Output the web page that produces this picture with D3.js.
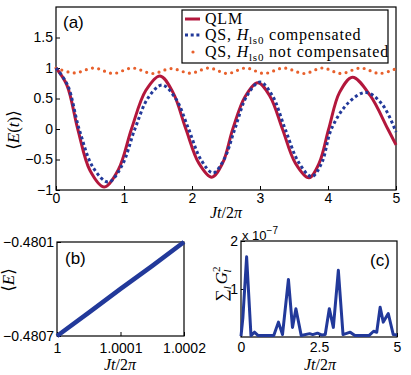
<!DOCTYPE html>
<html>
<meta charset="utf-8">
<title>QLM vs QS</title>
<script src="https://d3js.org/d3.v7.min.js"></script>
<style>
  body { margin: 0; background: #fff; }
  text { font-family: "Liberation Sans", Arial, sans-serif; }
  .serif { font-family: "Liberation Serif", "DejaVu Serif", serif; }
</style>
<body>
<script>
  // panel (a): <E(t)>
  var qlmT = [0, 0.16, 0.32, 0.5, 0.71, 0.92, 1.11, 1.32, 1.53, 1.72, 1.91, 2.1, 2.29, 2.45, 2.6, 2.78, 2.97, 3.15, 3.33, 3.52, 3.72, 3.87, 4.01, 4.17, 4.36, 4.62, 4.88, 5.0];
  var qlmE = [1, 0.72, 0, -0.68, -0.95, -0.66, 0, 0.63, 0.87, 0.6, 0, -0.56, -0.79, -0.56, 0, 0.53, 0.76, 0.53, 0, -0.56, -0.8, -0.56, 0, 0.6, 0.85, 0.55, 0, -0.26];
  var compT = [0, 0.17, 0.34, 0.55, 0.77, 0.97, 1.16, 1.36, 1.56, 1.76, 1.95, 2.13, 2.31, 2.47, 2.63, 2.81, 3.0, 3.18, 3.37, 3.57, 3.76, 3.91, 4.05, 4.3, 4.56, 4.8, 5.0];
  var compE = [1, 0.72, 0, -0.64, -0.87, -0.6, 0, 0.52, 0.72, 0.5, 0, -0.5, -0.72, -0.5, 0, 0.55, 0.77, 0.55, 0, -0.55, -0.78, -0.55, 0, 0.43, 0.6, 0.4, -0.05];
  var notT = [0, 0.27, 0.56, 0.84, 1.12, 1.42, 1.69, 1.98, 2.25, 2.52, 2.79, 3.06, 3.35, 3.65, 3.92, 4.19, 4.48, 4.76, 5.0];
  var notE = [1.0, 0.92, 1.0, 0.91, 1.0, 0.91, 0.99, 0.915, 1.0, 0.91, 1.0, 0.91, 1.0, 0.91, 1.0, 0.91, 1.0, 0.91, 0.99];
  var aTicksX = [0, 1, 2, 3, 4, 5];
  var aTicksY = [-1, -0.5, 0, 0.5, 1, 1.5];

  // panel (b): zoom on <E>
  var bT = [1, 1.00005, 1.0001, 1.00015, 1.0002];
  var bE = [-0.4807, -0.480551, -0.480399, -0.480252, -0.4801];
  var bTicksX = [1, 1.0001, 1.0002];
  var bLabelsX = ["1", "1.0001", "1.0002"];
  var bTicksY = [-0.4807, -0.4801];

  // panel (c): sum of G_l^2 (units of 1e-7)
  var cT = [0, 0.06, 0.18, 0.32, 0.43, 0.55, 1.05, 1.2, 1.33, 1.52, 1.65, 1.76, 1.93, 2.2, 2.3, 2.45, 2.6, 2.7, 2.83, 2.96, 3.12, 3.27, 3.5, 3.65, 4.1, 4.25, 4.35, 4.46, 4.56, 4.72, 4.88, 5.0];
  var cG = [0.02, 0.4, 1.67, 0.03, 0.1, 0.03, 0.03, 0.31, 0.05, 1.2, 0.2, 0.59, 0.03, 0.07, 0.05, 0.08, 0.04, 0.05, 0.59, 0.2, 1.39, 0.05, 0.1, 0.03, 0.03, 0.12, 0.1, 0.62, 0.31, 0.49, 0.05, 0.04];
  var cTicksX = [0, 2.5, 5];
  var cTicksY = [1, 2];

  var red = "#b3173c", blue = "#22399a", orange = "#e8602c";

  var svg = d3.select("body").append("svg").attr("width", 411).attr("height", 375);
  var fmt = d3.format("~g");

  function frame(x, y, tx, ty, fx, fy, padX, padY) {
    var r = x.range(), s = y.range();
    svg.append("rect").attr("x", r[0]).attr("y", s[1]).attr("width", r[1] - r[0]).attr("height", s[0] - s[1])
      .attr("fill", "none").attr("stroke", "#000").attr("stroke-width", 1.2);
    svg.append("g").attr("transform", "translate(0," + s[0] + ")")
      .call(d3.axisBottom(x).tickValues(tx).tickFormat(fx).tickSize(-4).tickPadding(padX))
      .call(function(g) { g.select(".domain").remove(); g.selectAll("text").attr("font-size", 14).attr("font-family", "Liberation Sans"); });
    svg.append("g").attr("transform", "translate(" + r[0] + ",0)")
      .call(d3.axisLeft(y).tickValues(ty).tickFormat(fy).tickSize(-4).tickPadding(padY))
      .call(function(g) { g.select(".domain").remove(); g.selectAll("text").attr("font-size", 14).attr("font-family", "Liberation Sans"); });
  }

  function xlabel(cx, cy) {
    var t = svg.append("text").attr("class", "serif").attr("x", cx).attr("y", cy)
      .attr("text-anchor", "middle").attr("font-size", 16);
    t.append("tspan").attr("font-style", "italic").text("Jt");
    t.append("tspan").text("/2");
    t.append("tspan").attr("font-style", "italic").text("π");
  }

  // ---- (a)
  var xa = d3.scaleLinear().domain([0, 5]).range([56, 396]);
  var ya = d3.scaleLinear().domain([-1, 2]).range([190, 7]);
  frame(xa, ya, aTicksX, aTicksY, fmt, fmt, 3, 3);

  var lineA = d3.line().x(function(d) { return xa(d[0]); }).y(function(d) { return ya(d[1]); }).curve(d3.curveCatmullRom);
  svg.append("path").datum(d3.zip(notT, notE)).attr("d", lineA)
    .attr("fill", "none").attr("stroke", orange).attr("stroke-width", 3.2)
    .attr("stroke-linecap", "round").attr("stroke-dasharray", "0 6.3");
  svg.append("path").datum(d3.zip(qlmT, qlmE)).attr("d", lineA)
    .attr("fill", "none").attr("stroke", red).attr("stroke-width", 3);
  svg.append("path").datum(d3.zip(compT, compE)).attr("d", lineA)
    .attr("fill", "none").attr("stroke", blue).attr("stroke-width", 3).attr("stroke-dasharray", "3 2.7");

  svg.append("text").attr("x", 63).attr("y", 28).attr("font-size", 17).text("(a)");

  // legend
  var lg = svg.append("g");
  lg.append("rect").attr("x", 182).attr("y", 10).attr("width", 206).attr("height", 53)
    .attr("fill", "#fff").attr("stroke", "#000").attr("stroke-width", 1.2);
  lg.append("line").attr("x1", 185).attr("x2", 200).attr("y1", 19).attr("y2", 19).attr("stroke", red).attr("stroke-width", 3);
  lg.append("line").attr("x1", 185).attr("x2", 201).attr("y1", 35).attr("y2", 35).attr("stroke", blue).attr("stroke-width", 3).attr("stroke-dasharray", "3 2.7");
  lg.append("circle").attr("cx", 193).attr("cy", 52).attr("r", 1.6).attr("fill", orange);
  lg.append("text").attr("class", "serif").attr("x", 205).attr("y", 24).attr("font-size", 16)
    .attr("letter-spacing", 0.8).text("QLM");
  ["compensated", "not compensated"].forEach(function(s, i) {
    var t = lg.append("text").attr("class", "serif").attr("x", 205).attr("y", 40 + 16.5 * i)
      .attr("font-size", 16).attr("letter-spacing", 0.8);
    t.append("tspan").text("QS, ");
    t.append("tspan").attr("font-style", "italic").text("H");
    t.append("tspan").attr("dy", 4).attr("font-size", 11).text("ls0");
    t.append("tspan").attr("dy", -4).text(" " + s);
  });

  var yla = svg.append("text").attr("class", "serif").attr("transform", "translate(19,130) rotate(-90)")
    .attr("text-anchor", "middle").attr("font-size", 17);
  yla.append("tspan").text("⟨");
  yla.append("tspan").attr("font-style", "italic").text("E");
  yla.append("tspan").text("(");
  yla.append("tspan").attr("font-style", "italic").text("t");
  yla.append("tspan").text(")⟩");
  xlabel(226, 218);

  // ---- (b)
  var xb = d3.scaleLinear().domain([1, 1.0002]).range([57, 184]);
  var yb = d3.scaleLinear().domain([-0.4807, -0.4801]).range([336, 242]);
  frame(xb, yb, bTicksX, bTicksY, function(d, i) { return bLabelsX[i]; }, d3.format(".4f"), 7, 3);
  var lineB = d3.line().x(function(d) { return xb(d[0]); }).y(function(d) { return yb(d[1]); });
  svg.append("path").datum(d3.zip(bT, bE)).attr("d", lineB)
    .attr("fill", "none").attr("stroke", blue).attr("stroke-width", 4.5);
  svg.append("text").attr("x", 65).attr("y", 264).attr("font-size", 17).text("(b)");
  var ylb = svg.append("text").attr("class", "serif").attr("transform", "translate(14,280) rotate(-90)")
    .attr("text-anchor", "middle").attr("font-size", 17);
  ylb.append("tspan").text("⟨");
  ylb.append("tspan").attr("font-style", "italic").text("E");
  ylb.append("tspan").text("⟩");
  xlabel(120, 370);

  // ---- (c)
  var xc = d3.scaleLinear().domain([0, 5]).range([241, 397]);
  var yc = d3.scaleLinear().domain([0, 2]).range([337, 241]);
  frame(xc, yc, cTicksX, cTicksY, fmt, fmt, 5, 3);
  var lineC = d3.line().x(function(d) { return xc(d[0]); }).y(function(d) { return yc(d[1]); });
  svg.append("path").datum(d3.zip(cT, cG)).attr("d", lineC)
    .attr("fill", "none").attr("stroke", blue).attr("stroke-width", 3).attr("stroke-linejoin", "round");
  svg.append("text").attr("x", 370).attr("y", 266).attr("font-size", 17).text("(c)");
  var mult = svg.append("text").attr("x", 242).attr("y", 240).attr("font-size", 13);
  mult.append("tspan").text("x 10");
  mult.append("tspan").attr("dy", -6).attr("font-size", 10).text("−7");
  var ylc = svg.append("text").attr("class", "serif").attr("transform", "translate(227,284) rotate(-90)")
    .attr("text-anchor", "middle").attr("font-size", 17);
  ylc.append("tspan").text("∑");
  ylc.append("tspan").attr("dy", 4).attr("font-size", 11).attr("font-style", "italic").text("l");
  ylc.append("tspan").attr("dy", -4).attr("dx", 2).attr("font-style", "italic").text("G");
  ylc.append("tspan").attr("dy", -7).attr("font-size", 11).text("2");
  ylc.append("tspan").attr("dy", 11).attr("dx", -6).attr("font-size", 11).attr("font-style", "italic").text("l");
  xlabel(320, 370);
</script>
</body>
</html>
